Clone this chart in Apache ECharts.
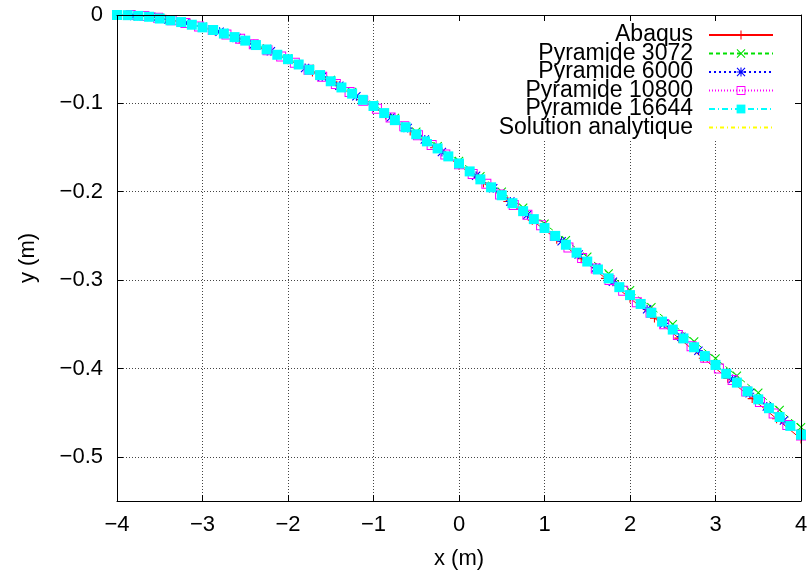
<!DOCTYPE html>
<html><head><meta charset="utf-8">
<script src="https://cdn.jsdelivr.net/npm/echarts@6/dist/echarts.min.js"></script>
<style>html,body{margin:0;padding:0;background:#fff}#c{width:811px;height:575px}</style>
</head><body><div id="c"></div>
<script>
// ---- data ----
const seriesNames = ['Abaqus','Pyramide 3072','Pyramide 6000','Pyramide 10800','Pyramide 16644','Solution analytique'];
const xTicks = [-4,-3,-2,-1,0,1,2,3,4];
const yTicks = [-0.5,-0.4,-0.3,-0.2,-0.1,0];

const abaqusX = [-4,-3.714,-3.429,-3.143,-2.857,-2.571,-2.286,-2,-1.714,-1.429,-1.143,-0.857,-0.571,-0.286,0,0.286,0.571,0.857,1.143,1.429,1.714,2,2.286,2.571,2.857,3.143,3.429,3.714,4];
const abaqusY = [0,-0.0012,-0.0047,-0.0102,-0.0178,-0.0271,-0.0381,-0.0506,-0.0645,-0.0796,-0.0958,-0.1131,-0.1313,-0.1502,-0.1699,-0.1902,-0.2110,-0.2323,-0.2539,-0.2758,-0.2981,-0.3205,-0.3430,-0.3657,-0.3884,-0.4112,-0.4341,-0.4569,-0.4798];

const p3072X = [-4,-3.75,-3.5,-3.25,-3,-2.75,-2.5,-2.25,-2,-1.75,-1.5,-1.25,-1,-0.75,-0.5,-0.25,0,0.25,0.5,0.75,1,1.25,1.5,1.75,2,2.25,2.5,2.75,3,3.25,3.5,3.75,4];
const p3072Y = [0,-0.0009,-0.0035,-0.0077,-0.0134,-0.0205,-0.0289,-0.0385,-0.0492,-0.0609,-0.0736,-0.0871,-0.1015,-0.1165,-0.1322,-0.1484,-0.1652,-0.1824,-0.2001,-0.2180,-0.2363,-0.2548,-0.2736,-0.2925,-0.3116,-0.3308,-0.3500,-0.3694,-0.3887,-0.4082,-0.4276,-0.4470,-0.4665];

const p6000X = [-4,-3.8,-3.6,-3.4,-3.2,-3,-2.8,-2.6,-2.4,-2.2,-2,-1.8,-1.6,-1.4,-1.2,-1,-0.8,-0.6,-0.4,-0.2,0,0.2,0.4,0.6,0.8,1,1.2,1.4,1.6,1.8,2,2.2,2.4,2.6,2.8,3,3.2,3.4,3.6,3.8,4];
const p6000Y = [0,-0.001,-0.002,-0.005,-0.009,-0.014,-0.019,-0.026,-0.033,-0.041,-0.050,-0.060,-0.070,-0.080,-0.092,-0.103,-0.116,-0.128,-0.141,-0.155,-0.168,-0.182,-0.196,-0.211,-0.226,-0.241,-0.256,-0.271,-0.286,-0.302,-0.317,-0.333,-0.349,-0.364,-0.380,-0.396,-0.412,-0.428,-0.443,-0.459,-0.474];

const p10800X = [-4,-3.84,-3.68,-3.52,-3.36,-3.2,-3.04,-2.88,-2.72,-2.56,-2.4,-2.24,-2.08,-1.92,-1.76,-1.6,-1.44,-1.28,-1.12,-0.96,-0.8,-0.64,-0.48,-0.32,-0.16,0,0.16,0.32,0.48,0.64,0.8,0.96,1.12,1.28,1.44,1.6,1.76,1.92,2.08,2.24,2.4,2.56,2.72,2.88,3.04,3.2,3.36,3.52,3.68,3.84,4];
const p10800Y = [0,0,-0.001,-0.003,-0.006,-0.009,-0.013,-0.017,-0.022,-0.027,-0.033,-0.040,-0.047,-0.054,-0.062,-0.070,-0.078,-0.087,-0.097,-0.106,-0.116,-0.126,-0.136,-0.147,-0.158,-0.169,-0.180,-0.191,-0.203,-0.215,-0.226,-0.238,-0.250,-0.263,-0.275,-0.287,-0.300,-0.312,-0.325,-0.337,-0.350,-0.362,-0.375,-0.388,-0.400,-0.413,-0.426,-0.438,-0.451,-0.464,-0.476];

const p16644X = [-4,-3.875,-3.75,-3.625,-3.5,-3.375,-3.25,-3.125,-3,-2.875,-2.75,-2.625,-2.5,-2.375,-2.25,-2.125,-2,-1.875,-1.75,-1.625,-1.5,-1.375,-1.25,-1.125,-1,-0.875,-0.75,-0.625,-0.5,-0.375,-0.25,-0.125,0,0.125,0.25,0.375,0.5,0.625,0.75,0.875,1,1.125,1.25,1.375,1.5,1.625,1.75,1.875,2,2.125,2.25,2.375,2.5,2.625,2.75,2.875,3,3.125,3.25,3.375,3.5,3.625,3.75,3.875,4];
const p16644Y = [0,-0.0002,-0.001,-0.002,-0.004,-0.006,-0.008,-0.011,-0.014,-0.017,-0.021,-0.025,-0.029,-0.034,-0.039,-0.045,-0.050,-0.056,-0.062,-0.068,-0.075,-0.082,-0.089,-0.096,-0.103,-0.111,-0.119,-0.127,-0.135,-0.143,-0.151,-0.160,-0.168,-0.177,-0.186,-0.195,-0.204,-0.213,-0.222,-0.231,-0.241,-0.250,-0.260,-0.269,-0.279,-0.288,-0.298,-0.308,-0.317,-0.327,-0.337,-0.347,-0.356,-0.366,-0.376,-0.386,-0.396,-0.406,-0.416,-0.426,-0.435,-0.445,-0.455,-0.465,-0.475];

const analytiqueX = [-4,-3.75,-3.5,-3.25,-3,-2.75,-2.5,-2.25,-2,-1.75,-1.5,-1.25,-1,-0.75,-0.5,-0.25,0,0.25,0.5,0.75,1,1.25,1.5,1.75,2,2.25,2.5,2.75,3,3.25,3.5,3.75,4];
const analytiqueY = [0,-0.001,-0.004,-0.008,-0.014,-0.021,-0.029,-0.039,-0.050,-0.062,-0.075,-0.089,-0.103,-0.119,-0.135,-0.151,-0.168,-0.186,-0.204,-0.222,-0.241,-0.260,-0.279,-0.298,-0.317,-0.337,-0.356,-0.376,-0.396,-0.416,-0.435,-0.455,-0.475];

// ---- styling ----
const zip = (xs, ys) => xs.map((x, i) => [x, ys[i]]);
const FONT = 'Liberation Sans';
const SYM_PLUS = 'path://M4.4,0H5.6V10H4.4Z M0,4.4H10V5.6H0Z';
const SYM_CROSS = 'path://M0,0.85L0.85,0L10,9.15L9.15,10Z M9.15,0L10,0.85L0.85,10L0,9.15Z';
const SYM_STAR = 'path://M4.4,0H5.6V10H4.4Z M0,4.4H10V5.6H0Z M0,0.85L0.85,0L10,9.15L9.15,10Z M9.15,0L10,0.85L0.85,10L0,9.15Z';
const SYM_OSQ = 'path://M0,0H10V10H0Z M1,1V9H9V1Z';
const fmt = v => { const r = Number(v.toFixed(2)); return r === 0 ? '0' : String(r).replace('-', '\u2212'); };

function line(name, data, color, dash, symbol, size, symColor) {
  return {
    name, type: 'line', data, clip: false, silent: true,
    symbol, symbolSize: size, showSymbol: !symColor,
    lineStyle: { color, width: 1, type: dash },
    itemStyle: { color: symColor || color, borderWidth: 0 },
    emphasis: { disabled: true }
  };
}

const chart = echarts.init(document.getElementById('c'), null, { renderer: 'canvas' });
const gridDot = { color: '#444', width: 1, type: [1, 2] };
chart.setOption({
  animation: false,
  backgroundColor: '#fff',
  grid: { left: 117, right: 10, top: 15, bottom: 74, containLabel: false },
  legend: {
    orient: 'vertical', left: 430, top: 15,
    backgroundColor: '#fff',
    padding: [8.5, 28, 0, 0],
    itemGap: -4.5, itemWidth: 64, itemHeight: 11,
    align: 'right', selectedMode: false,
    textStyle: { fontFamily: FONT, fontSize: 23, lineHeight: 18, color: '#000', width: 263, align: 'right', padding: [0, 11, 0, 0] },
    data: seriesNames
  },
  xAxis: [{
    type: 'value', min: -4, max: 4, interval: 1, position: 'bottom',
    name: 'x (m)', nameLocation: 'middle', nameGap: 47,
    nameTextStyle: { fontFamily: FONT, fontSize: 22, color: '#000' },
    axisLine: { show: true, onZero: false, lineStyle: { color: '#000', width: 1 } },
    axisTick: { show: true, inside: true, length: 6, lineStyle: { color: '#000' } },
    axisLabel: { fontFamily: FONT, fontSize: 22, color: '#000', margin: 13, formatter: fmt },
    splitLine: { show: true, lineStyle: gridDot }
  }, {
    type: 'value', min: -4, max: 4, interval: 1, position: 'top', z: 10,
    axisLine: { show: true, onZero: false, lineStyle: { color: '#000', width: 1 } },
    axisTick: { show: true, inside: true, length: 6, lineStyle: { color: '#000' } },
    axisLabel: { show: false }, splitLine: { show: false }
  }],
  yAxis: [{
    type: 'value', min: -0.55, max: 0, position: 'left',
    name: 'y (m)', nameLocation: 'middle', nameGap: 78, nameRotate: 90,
    nameTextStyle: { fontFamily: FONT, fontSize: 22, color: '#000' },
    axisLine: { show: true, onZero: false, lineStyle: { color: '#000', width: 1 } },
    axisTick: { show: true, inside: true, length: 6, customValues: yTicks, lineStyle: { color: '#000' } },
    axisLabel: { fontFamily: FONT, fontSize: 22, color: '#000', margin: 14, customValues: yTicks, formatter: fmt },
    splitLine: { show: true, lineStyle: gridDot }
  }, {
    type: 'value', min: -0.55, max: 0, position: 'right', z: 10,
    axisLine: { show: true, onZero: false, lineStyle: { color: '#000', width: 1 } },
    axisTick: { show: true, inside: true, length: 6, customValues: yTicks, lineStyle: { color: '#000' } },
    axisLabel: { show: false, customValues: yTicks }, splitLine: { show: false }
  }],
  series: [
    line(seriesNames[0], zip(abaqusX, abaqusY), '#ff0000', 'solid', SYM_PLUS, 9),
    line(seriesNames[1], zip(p3072X, p3072Y), '#00e000', [4, 3], SYM_CROSS, 9),
    line(seriesNames[2], zip(p6000X, p6000Y), '#0000ff', [2, 3], SYM_STAR, 9),
    line(seriesNames[3], zip(p10800X, p10800Y), '#ff00ff', [1, 2], SYM_OSQ, 10),
    line(seriesNames[4], zip(p16644X, p16644Y), '#00ffff', [6, 3, 1, 3], 'rect', 10),
    line(seriesNames[5], zip(analytiqueX, analytiqueY), '#ffff00', [4, 3, 1, 3], 'circle', 1, 'rgba(0,0,0,0)')
  ]
});
</script></body></html>
